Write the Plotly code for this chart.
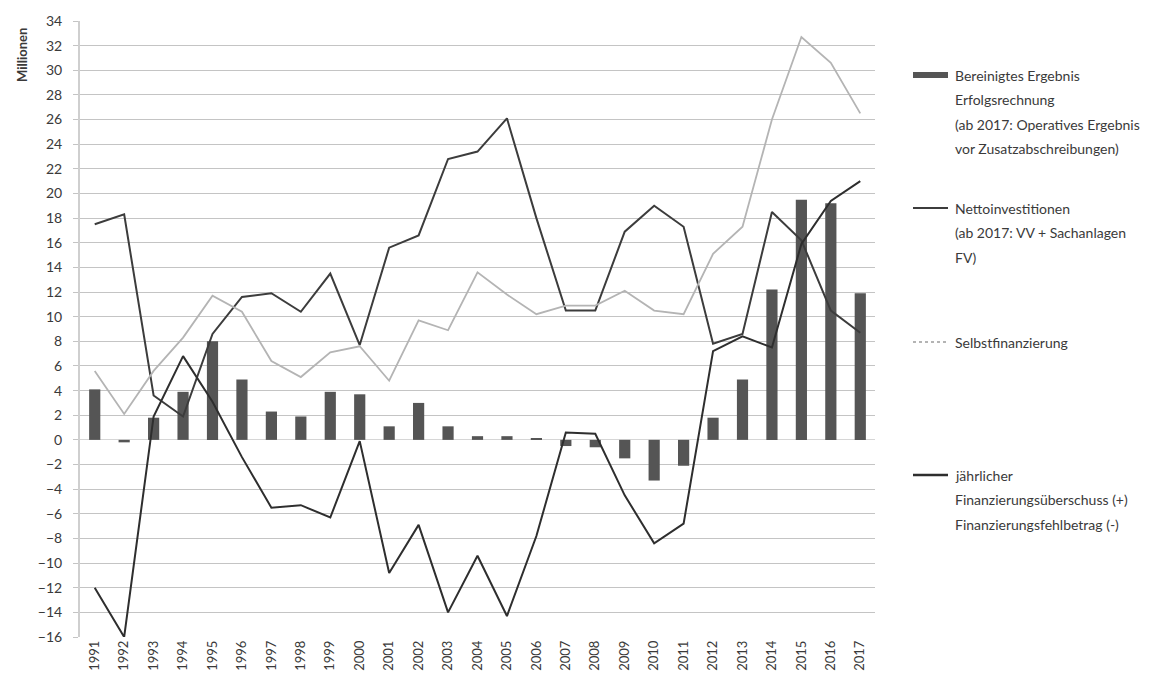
import plotly.graph_objects as go

# Jahre und Werte (Mio.)
jahre = [str(j) for j in range(1991, 2018)]

bereinigtes_ergebnis = [4.1, -0.2, 1.8, 3.9, 8.0, 4.9, 2.3, 1.9, 3.9, 3.7, 1.1, 3.0, 1.1,
                        0.3, 0.3, 0.1, -0.5, -0.6, -1.5, -3.3, -2.1, 1.8, 4.9, 12.2, 19.5,
                        19.2, 11.9]

nettoinvestitionen = [17.5, 18.3, 3.6, 1.9, 8.6, 11.6, 11.9, 10.4, 13.5, 7.7, 15.6, 16.6,
                      22.8, 23.4, 26.1, 18.0, 10.5, 10.5, 16.9, 19.0, 17.3, 7.8, 8.6, 18.5,
                      16.2, 10.5, 8.7]

selbstfinanzierung = [5.6, 2.1, 5.6, 8.3, 11.7, 10.4, 6.4, 5.1, 7.1, 7.6, 4.8, 9.7, 8.9,
                      13.6, 11.8, 10.2, 10.9, 10.9, 12.1, 10.5, 10.2, 15.1, 17.3, 26.0,
                      32.7, 30.6, 26.5]

finanzierungssaldo = [-12.0, -16.0, 1.9, 6.8, 3.1, -1.4, -5.5, -5.3, -6.3, -0.1, -10.8,
                      -6.9, -14.0, -9.4, -14.3, -7.8, 0.6, 0.5, -4.5, -8.4, -6.8, 7.2,
                      8.4, 7.5, 15.9, 19.4, 21.0]

y_ticks = list(range(-16, 35, 2))

legend_texts = [
    ["Bereinigtes Ergebnis", "Erfolgsrechnung", "(ab 2017: Operatives Ergebnis",
     "vor Zusatzabschreibungen)"],
    ["Nettoinvestitionen", "(ab 2017: VV + Sachanlagen", "FV)"],
    ["Selbstfinanzierung"],
    ["jährlicher", "Finanzierungsüberschuss (+)", "Finanzierungsfehlbetrag (-)"],
]

# Gestaltung
W, H = 1175, 683
ML, MR, MT, MB = 80, 300, 21, 46
FONT = "Lato"
TEXT = "#3a3a3a"
BAR_COLOR = "#555555"
NETTO_COLOR = "#3c3c3c"
SELBST_COLOR = "#b4b4b4"
SALDO_COLOR = "#2e2e2e"
GRID = "#c4c4c4"

fig = go.Figure()

fig.add_bar(x=jahre, y=bereinigtes_ergebnis, marker=dict(color=BAR_COLOR, line=dict(width=0)),
            name="Bereinigtes Ergebnis", showlegend=False)
fig.add_scatter(x=jahre, y=nettoinvestitionen, mode="lines",
                line=dict(color=NETTO_COLOR, width=2), name="Nettoinvestitionen",
                showlegend=False)
fig.add_scatter(x=jahre, y=selbstfinanzierung, mode="lines",
                line=dict(color=SELBST_COLOR, width=1.8), name="Selbstfinanzierung",
                showlegend=False)
fig.add_scatter(x=jahre, y=finanzierungssaldo, mode="lines",
                line=dict(color=SALDO_COLOR, width=2), name="jährlicher Finanzierungssaldo",
                showlegend=False)

plot_w = W - ML - MR
plot_h = H - MT - MB


def px_x(px):
    return (px - ML) / plot_w


def px_y(py):
    return (H - MB - py) / plot_h


# Legende rechts neben dem Diagramm
legend_rows = [75, 208, 342, 475]
line_step = 24.5
sym_x0, sym_x1, text_x = 913, 948, 953
legend_styles = [
    dict(kind="bar", color=BAR_COLOR),
    dict(kind="line", color=NETTO_COLOR, width=2),
    dict(kind="line", color=SELBST_COLOR, width=1.8, dash="dot"),
    dict(kind="line", color=SALDO_COLOR, width=2.5),
]

shapes = []
annotations = []
for row_y, lines, style in zip(legend_rows, legend_texts, legend_styles):
    if style["kind"] == "bar":
        shapes.append(dict(type="rect", xref="paper", yref="paper",
                           x0=px_x(sym_x0), x1=px_x(sym_x1),
                           y0=px_y(row_y + 3), y1=px_y(row_y - 3),
                           fillcolor=style["color"], line=dict(width=0)))
    else:
        shapes.append(dict(type="line", xref="paper", yref="paper",
                           x0=px_x(sym_x0), x1=px_x(sym_x1),
                           y0=px_y(row_y), y1=px_y(row_y),
                           line=dict(color=style["color"], width=style["width"],
                                     dash=style.get("dash", "solid"))))
    for i, txt in enumerate(lines):
        annotations.append(dict(xref="paper", yref="paper", x=px_x(text_x),
                                y=px_y(row_y + i * line_step), text=txt, showarrow=False,
                                xanchor="left", yanchor="middle",
                                font=dict(family=FONT, size=14, color=TEXT)))

annotations.append(dict(xref="paper", yref="paper", x=px_x(22), y=px_y(55),
                        text="<b>Millionen</b>", textangle=-90, showarrow=False,
                        xanchor="center", yanchor="middle",
                        font=dict(family=FONT, size=13, color=TEXT)))

fig.update_layout(
    width=W, height=H,
    margin=dict(l=ML, r=MR, t=MT, b=MB, pad=0),
    paper_bgcolor="white", plot_bgcolor="white",
    bargap=0.62,
    showlegend=False,
    font=dict(family=FONT, color=TEXT),
    shapes=shapes,
    annotations=annotations,
    xaxis=dict(type="category", range=[-0.5, 26.5], showgrid=False, showline=False,
               ticks="", tickangle=-90, tickfont=dict(family=FONT, size=13, color=TEXT),
               zeroline=False),
    yaxis=dict(range=[-16, 34], tickvals=y_ticks, showgrid=True, gridcolor=GRID,
               gridwidth=1.4, zeroline=True, zerolinecolor="#d6d6d6", zerolinewidth=1.2,
               showline=True, linecolor="#cfcfcf", linewidth=2, ticks="outside",
               ticklen=5, tickcolor=GRID, ticklabelstandoff=8,
               tickfont=dict(family=FONT, size=14, color=TEXT)),
)

fig.write_html("out.html")
